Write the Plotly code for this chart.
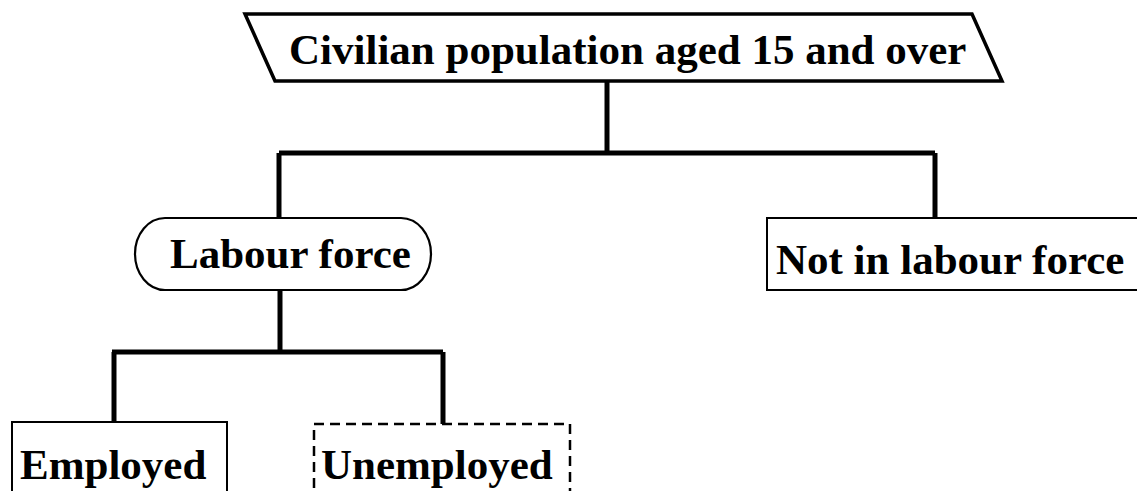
import plotly.graph_objects as go

# ---- content (labels of the diagram) ----
node_labels = ["Civilian population aged 15 and over", "Labour force",
               "Not in labour force", "Employed", "Unemployed"]

# ---- geometry (layout only) ----
W, H = 1137, 491
FONT = dict(family="Liberation Serif, Times New Roman, serif", size=43, color="black", weight="bold")

text_pos = {  # center x, center y
    "Civilian population aged 15 and over": (627, 49),
    "Labour force": (290, 253),
    "Not in labour force": (950, 259),
    "Employed": (113, 464),
    "Unemployed": (437, 464),
}

fig = go.Figure()
fig.add_trace(go.Scatter(x=[0, W], y=[0, H], mode="markers", marker=dict(opacity=0),
                         hoverinfo="skip", showlegend=False))

shapes = []

def line(x0, y0, x1, y1, w=5, dash="solid"):
    shapes.append(dict(type="line", xref="x", yref="y", x0=x0, y0=y0, x1=x1, y1=y1,
                       line=dict(color="black", width=w, dash=dash)))

# top parallelogram
shapes.append(dict(type="path", xref="x", yref="y",
                   path="M 245 14 L 972 14 L 1002 81 L 275 81 Z",
                   line=dict(color="black", width=3.5), fillcolor="rgba(0,0,0,0)"))

# connectors
line(607, 81, 607, 153)
line(279, 153, 935, 153)
line(279, 153, 279, 218)
line(935, 153, 935, 218)
line(280, 290, 280, 352)
line(112, 352, 443, 352)
line(114, 352, 114, 422)
line(443, 352, 443, 424)

# labour force pill (rounded ends via cubic beziers)
L, R, T, B = 135, 431, 218, 290
rx, ry = 30, 36
k = 0.5523
my = (T + B) / 2
pill = (f"M {L+rx} {T} L {R-rx} {T} "
        f"C {R-rx+k*rx} {T} {R} {my-k*ry} {R} {my} "
        f"C {R} {my+k*ry} {R-rx+k*rx} {B} {R-rx} {B} "
        f"L {L+rx} {B} "
        f"C {L+rx-k*rx} {B} {L} {my+k*ry} {L} {my} "
        f"C {L} {my-k*ry} {L+rx-k*rx} {T} {L+rx} {T} Z")
shapes.append(dict(type="path", xref="x", yref="y", path=pill,
                   line=dict(color="black", width=2.2), fillcolor="rgba(0,0,0,0)"))

# not in labour force box
shapes.append(dict(type="rect", xref="x", yref="y", x0=767, y0=218, x1=1160, y1=290,
                   line=dict(color="black", width=2), fillcolor="rgba(0,0,0,0)"))
# employed box
shapes.append(dict(type="rect", xref="x", yref="y", x0=12, y0=422, x1=227, y1=520,
                   line=dict(color="black", width=2), fillcolor="rgba(0,0,0,0)"))
# unemployed box (dashed)
shapes.append(dict(type="rect", xref="x", yref="y", x0=314, y0=424, x1=570, y1=520,
                   line=dict(color="black", width=2.5, dash="10px,6px"), fillcolor="rgba(0,0,0,0)"))

annotations = []
for lab in node_labels:
    cx, cy = text_pos[lab]
    annotations.append(dict(x=cx, y=cy, xref="x", yref="y", text=lab, showarrow=False,
                            xanchor="center", yanchor="middle", font=FONT))

fig.update_layout(
    width=W, height=H, margin=dict(l=0, r=0, t=0, b=0),
    paper_bgcolor="white", plot_bgcolor="white",
    xaxis=dict(range=[0, W], visible=False, fixedrange=True),
    yaxis=dict(range=[H, 0], visible=False, fixedrange=True),
    shapes=shapes, annotations=annotations, showlegend=False,
)

fig.write_html("out.html", config={"displayModeBar": False},
               post_script="document.body.style.margin='0';document.body.style.overflow='hidden';")
